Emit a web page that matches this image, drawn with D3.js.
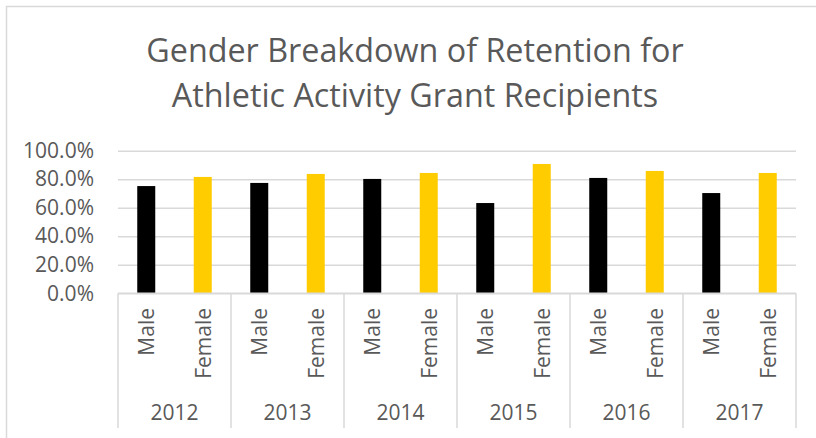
<!DOCTYPE html>
<html><head><meta charset="utf-8">
<script src="https://cdn.jsdelivr.net/npm/d3@7"></script>
<style>html,body{margin:0;padding:0;background:#fff;}svg{display:block;}</style>
</head><body>
<svg id="c" width="816" height="438"></svg>
<script>
const years = ["2012","2013","2014","2015","2016","2017"];
const genders = ["Male","Female"];
const maleValues = [0.752, 0.774, 0.802, 0.633, 0.809, 0.703];
const femaleValues = [0.816, 0.837, 0.844, 0.907, 0.858, 0.844];
const yTicks = [0, 0.2, 0.4, 0.6, 0.8, 1.0];
const titleLines = ["Gender Breakdown of Retention for", "Athletic Activity Grant Recipients"];

(function () {
const svg = d3.select("#c");
const W = 816, H = 438;
const font = "'Open Sans', sans-serif";
const txt = "#595959", grid = "#d9d9d9";
const colors = {Male: "#000000", Female: "#FFCC00"};
const fs = 21;

svg.append("rect").attr("x", 6.5).attr("y", 6.5).attr("width", W).attr("height", H)
  .attr("fill", "none").attr("stroke", "#d9d9d9").attr("stroke-width", 1.5);

svg.append("g").selectAll("text").data(titleLines).join("text")
  .attr("x", 415).attr("y", (d, i) => 62 + i * 45)
  .attr("text-anchor", "middle").attr("font-family", font).attr("font-size", 32.3)
  .attr("fill", txt).text(d => d);

const pLeft = 118, pRight = 796, pTop = 150.7, pBottom = 293.3;
const y = d3.scaleLinear().domain([0, 1]).range([pBottom, pTop]);
const x0 = d3.scaleBand().domain(years).range([pLeft, pRight]).padding(0);
const x1 = d3.scaleBand().domain(genders).range([0, x0.bandwidth()]).padding(0);
const barW = 18;

const yAxis = d3.axisLeft(y).tickValues(yTicks).tickFormat(d3.format(".1%")).tickSize(-(pRight - pLeft)).tickPadding(24);
const gy = svg.append("g").attr("transform", `translate(${pLeft},0)`).call(yAxis);
gy.select(".domain").remove();
gy.selectAll(".tick line").attr("stroke", grid).attr("stroke-width", 1.5);
gy.selectAll(".tick text").attr("font-family", font).attr("font-size", fs).attr("fill", txt);

const data = years.map((yr, i) => ({year: yr, vals: [{g: "Male", v: maleValues[i]}, {g: "Female", v: femaleValues[i]}]}));
const groups = svg.append("g").selectAll("g").data(data).join("g")
  .attr("transform", d => `translate(${x0(d.year)},0)`);
groups.selectAll("rect").data(d => d.vals).join("rect")
  .attr("x", d => x1(d.g) + x1.bandwidth() / 2 - barW / 2)
  .attr("width", barW)
  .attr("y", d => y(d.v)).attr("height", d => y(0) - y(d.v))
  .attr("fill", d => colors[d.g]);

const ax = svg.append("g");
ax.append("line").attr("x1", pLeft).attr("x2", pRight).attr("y1", pBottom).attr("y2", pBottom)
  .attr("stroke", grid).attr("stroke-width", 1.5);
const bounds = years.map(yr => x0(yr)).concat([pRight]);
ax.selectAll("line.sep").data(bounds).join("line").attr("class", "sep")
  .attr("x1", d => d).attr("x2", d => d).attr("y1", pBottom).attr("y2", 428)
  .attr("stroke", grid).attr("stroke-width", 1.5);

groups.selectAll("text.g").data(d => d.vals).join("text").attr("class", "g")
  .attr("transform", d => `translate(${x1(d.g) + x1.bandwidth() / 2 + 8},308) rotate(-90)`)
  .attr("text-anchor", "end").attr("font-family", font).attr("font-size", fs)
  .attr("fill", txt).text(d => d.g);

groups.append("text").attr("x", x0.bandwidth() / 2).attr("y", 420)
  .attr("text-anchor", "middle").attr("font-family", font).attr("font-size", fs)
  .attr("fill", txt).text(d => d.year);
})();
</script>
</body></html>
